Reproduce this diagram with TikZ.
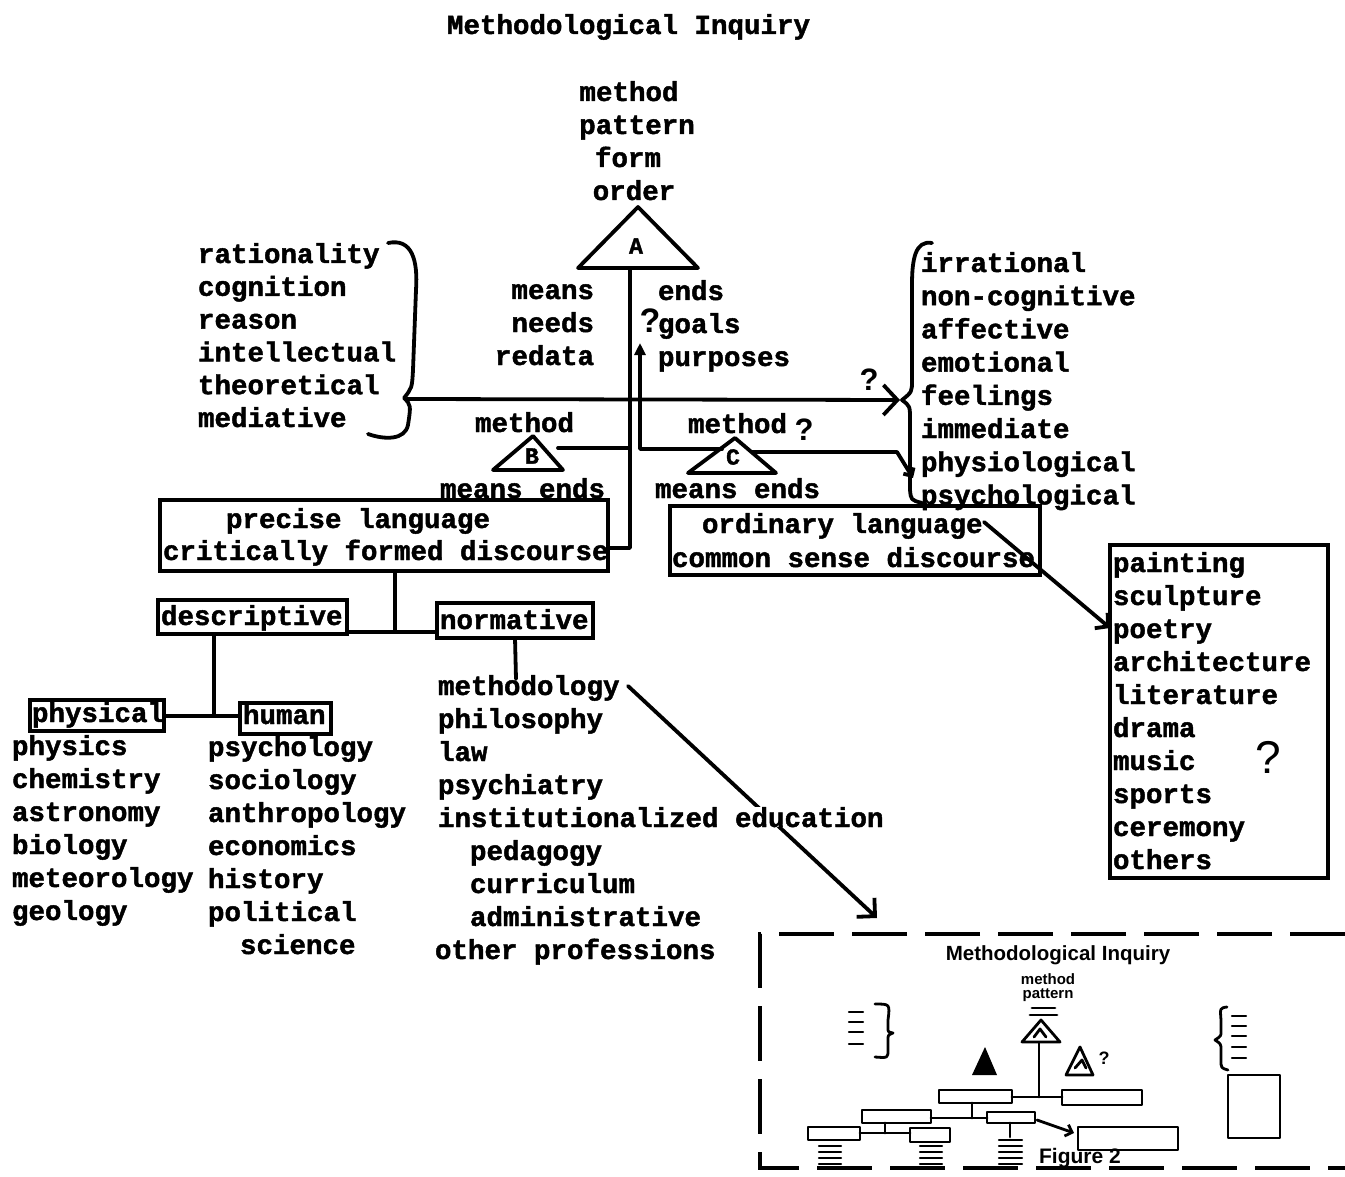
\documentclass[tikz,border=0pt]{standalone}
\usepackage{fontspec}
\newfontfamily\tw{Liberation Mono}[BoldFeatures={FakeBold=1.6}]
\newfontfamily\hw{Liberation Sans}
\usetikzlibrary{arrows.meta,calc}
\tikzset{
  tt/.style={font=\tw\bfseries\fontsize{27.5}{33}\selectfont, inner sep=0pt, outer sep=0pt},
  lab/.style={font=\tw\bfseries\fontsize{23}{23}\selectfont, inner sep=0pt},
  ln/.style={line width=3.8pt, line cap=round, line join=round},
  bx/.style={draw, line width=3.8pt, inner sep=0pt, outer sep=0pt},
  mln/.style={line width=2.8pt, line cap=round, line join=round},
  qm/.style={font=\hw\bfseries\fontsize{34}{34}\selectfont, inner sep=0pt},
  dbox/.style={line width=3.8pt, dash pattern=on 55pt off 18pt},
  hand/.style={font=\hw\bfseries\fontsize{20.5}{20.5}\selectfont, inner sep=0pt},
}
\begin{document}
\begin{tikzpicture}[x=1pt,y=-1pt]
\useasboundingbox (0,0) rectangle (1345,1177);

% ---------- title and top words
\node[tt,anchor=base west] (title) at (447,34) {Methodological Inquiry};
\node[tt,anchor=base] (top1) at (629,101) {method};
\node[tt,anchor=base] (top2) at (637,134) {pattern};
\node[tt,anchor=base] (top3) at (628,167) {form};
\node[tt,anchor=base] (top4) at (634,200) {order};

% ---------- triangle A
\coordinate (Aapex) at (638,207);
\coordinate (Aleft) at (578,268);
\coordinate (Aright) at (698,268);
\draw[ln] (Aapex) -- (Aleft) -- (Aright) -- cycle;
\node[lab] (Alab) at (636,246) {A};
\coordinate (Abase) at (630,268);

% ---------- means / ends
\foreach \t [count=\i] in {means,needs,redata}
  \node[tt,anchor=base east] (me\i) at (594,{299+33*(\i-1)}) {\t};
\foreach \t [count=\i] in {ends,goals,purposes}
  \node[tt,anchor=base west] (en\i) at (658,{300+33*(\i-1)}) {\t};

% ---------- left column
\foreach \t [count=\i] in {rationality,cognition,reason,intellectual,theoretical,mediative}
  \node[tt,anchor=base west] (lc\i) at (198,{263+32.8*(\i-1)}) {\t};

% ---------- right column
\foreach \t [count=\i] in {irrational,non-cognitive,affective,emotional,feelings,immediate,physiological,psychological}
  \node[tt,anchor=base west] (rc\i) at (921,{272+33.2*(\i-1)}) {\t};

% ---------- braces
\draw[ln] (388,243) .. controls (412,238) and (418,260) .. (416,290) -- (413,370)
  .. controls (412,388) .. (404,398) .. controls (411,405) .. (408,425)
  .. controls (405,440) and (385,440) .. (368,434);
\draw[ln] (932,243) .. controls (915,240) and (912,260) .. (912,285) -- (912,380)
  .. controls (912,392) .. (902,400) .. controls (910,406) .. (910,420) -- (910,490)
  .. controls (911,500) .. (922,503);

% ---------- method B and C
\node[tt,anchor=base west] (mB) at (475,432) {method};
\node[tt,anchor=base west] (mC) at (688,433) {method};
\coordinate (Bapex) at (533,436);
\coordinate (Bleft) at (493,470);
\coordinate (Bright) at (563,470);
\draw[ln] (Bapex) -- (Bleft) -- (Bright) -- cycle;
\node[lab] (Blab) at (532,456) {B};
\coordinate (Capex) at (735,438);
\coordinate (Cleft) at (688,473);
\coordinate (Cright) at (776,473);
\draw[ln] (Capex) -- (Cleft) -- (Cright) -- cycle;
\node[lab] (Clab) at (733,457) {C};
\node[tt,anchor=base west] (meB) at (440,498) {means ends};
\node[tt,anchor=base west] (meC) at (655,498) {means ends};

% ---------- language boxes
\node[bx,minimum width=448,minimum height=71] (PL) at (384,535.5) {};
\node[tt,anchor=base west] (PL1) at (226,528) {precise language};
\node[tt,anchor=base west] (PL2) at (163,560) {critically formed discourse};
\node[bx,minimum width=370,minimum height=69] (OL) at (855,540.5) {};
\node[tt,anchor=base west] (OL1) at (702,533) {ordinary language};
\node[tt,anchor=base west] (OL2) at (672,567) {common sense discourse};

% ---------- connectors around the centre
\coordinate (Acorner) at (630,548);
\draw[ln] (Abase) -- (Acorner) -- (Acorner -| PL.east);
\coordinate (Bside) at (558,448);
\draw[ln] (Bside) -- (Bside -| Abase);
\coordinate (Cside) at (722,449);
\coordinate (Ccorner) at (640,449);
\coordinate (Aup) at (640,343);
\draw[ln,-{Triangle[length=12pt,width=11pt]}] (Cside) -- (Ccorner) -- (Aup);
\coordinate (Cout) at (752,452);
\coordinate (Cbend) at (897,452);
\coordinate (Cend) at (913,478);
\draw[ln,-{Straight Barb[length=6pt,width=12pt]}] (Cout) -- (Cbend) -- (Cend);
\coordinate (Lb) at (407,399);
\coordinate (Rb) at (900,400);
\draw[ln,-{Straight Barb[length=14pt,width=30pt]}] (Lb) -- (Rb);

% question marks
\node[qm] (q1) at (650,321) {?};
\node[qm,font=\hw\bfseries\fontsize{31}{31}\selectfont] (q2) at (869,380) {?};
\node[qm,font=\hw\bfseries\fontsize{31}{31}\selectfont] (q3) at (804,430) {?};

% ---------- descriptive / normative
\node[bx,minimum width=189,minimum height=34] (DES) at (252.5,617) {};
\node[tt,anchor=base west] (DESt) at (161,625) {descriptive};
\node[bx,minimum width=156,minimum height=35] (NOR) at (515,620.5) {};
\node[tt,anchor=base west] (NORt) at (440,629) {normative};
\coordinate (J1) at (395,632);
\draw[ln] (J1 |- PL.south) -- (J1);
\draw[ln] (DES.east |- J1) -- (NOR.west |- J1);
\coordinate (Nend) at (516,679);
\draw[ln] (NOR.south) -- (Nend);

\node[bx,minimum width=134,minimum height=31] (PHY) at (97,715.5) {};
\node[tt,anchor=base west] (PHYt) at (32,722) {physical};
\node[bx,minimum width=91,minimum height=31] (HUM) at (285.5,718.5) {};
\node[tt,anchor=base west] (HUMt) at (243,724) {human};
\coordinate (J2) at (214,716);
\draw[ln] (J2 |- DES.south) -- (J2);
\draw[ln] (PHY.east |- J2) -- (HUM.west |- J2);

% ---------- lists
\foreach \t [count=\i] in {physics,chemistry,astronomy,biology,meteorology,geology}
  \node[tt,anchor=base west] (ph\i) at (12,{755+33*(\i-1)}) {\t};
\foreach \t [count=\i] in {psychology,sociology,anthropology,economics,history,political}
  \node[tt,anchor=base west] (hu\i) at (208,{756+33*(\i-1)}) {\t};
\node[tt,anchor=base west] (hu7) at (240,954) {science};

% arrow methodology -> figure
\coordinate (MA) at (628,686);
\coordinate (MB) at (877,918);
\draw[ln,-{Straight Barb[length=13pt,width=26pt]}] (MA) -- (MB);

\node[tt,anchor=base west] (no1) at (438,695) {methodology};
\node[tt,anchor=base west] (no2) at (438,728) {philosophy};
\node[tt,anchor=base west] (no3) at (438,761) {law};
\node[tt,anchor=base west] (no4) at (438,794) {psychiatry};
\node[tt,anchor=base west,fill=white] (no5) at (438,827) {institutionalized education};
\node[tt,anchor=base west] (no6) at (470,860) {pedagogy};
\node[tt,anchor=base west] (no7) at (470,893) {curriculum};
\node[tt,anchor=base west] (no8) at (470,926) {administrative};
\node[tt,anchor=base west] (no9) at (435,959) {other professions};

% ---------- arts box
\node[bx,minimum width=218,minimum height=333] (ART) at (1219,711.5) {};
\foreach \t [count=\i] in {painting,sculpture,poetry,architecture,literature,drama,music,sports,ceremony,others}
  \node[tt,anchor=base west] (ar\i) at (1113,{572+33*(\i-1)}) {\t};
\node[qm,font=\hw\fontsize{46}{46}\selectfont] (q4) at (1268,757) {?};
\coordinate (OLa) at (984,522);
\coordinate (POa) at (1110,628);
\draw[ln,-{Straight Barb[length=9pt,width=20pt]}] (OLa) -- (POa);

% ---------- dashed frame with the small figure
\draw[dbox] (1345,934) -- (760,934) -- (760,1168) -- (1345,1168);

\node[hand] (mt) at (1058,955) {Methodological Inquiry};
\node[hand,font=\hw\bfseries\fontsize{15}{15}\selectfont] (mm) at (1048,979) {method};
\node[hand,font=\hw\bfseries\fontsize{15}{15}\selectfont] (mp) at (1048,995) {pattern};
\node[hand,font=\hw\bfseries\fontsize{21}{21}\selectfont] (mf) at (1080,1158) {Figure 2};
\draw[mln] (1032,1008) -- (1055,1008) (1030,1015) -- (1057,1015);
\draw[mln] (1022,1042) -- (1041,1020) -- (1060,1042) -- cycle;
\draw[mln] (1034,1037) -- (1040,1029) -- (1046,1037);
\fill (972,1075) -- (985,1047) -- (997,1075) -- cycle;
\draw[mln] (1066,1075) -- (1080,1047) -- (1093,1075) -- cycle;
\draw[mln] (1075,1068) -- (1082,1060) -- (1086,1068);
\node[hand,font=\hw\bfseries\fontsize{18}{18}\selectfont] (mq) at (1104,1058) {?};
\draw[mln] (1039,1043) -- (1039,1097);
\draw[mln] (939,1090) rectangle (1012,1103);
\draw[mln] (1062,1090) rectangle (1142,1105);
\draw[mln] (1012,1097) -- (1062,1097);
\draw[mln] (972,1103) -- (972,1118) (931,1118) -- (987,1118);
\draw[mln] (862,1110) rectangle (931,1123);
\draw[mln] (987,1112) rectangle (1035,1123);
\draw[mln,-{Straight Barb[length=6pt,width=12pt]}] (1037,1120) -- (1074,1133);
\draw[mln] (1078,1127) rectangle (1178,1150);
\draw[mln] (885,1123) -- (885,1133) (860,1133) -- (910,1133);
\draw[mln] (808,1127) rectangle (860,1140);
\draw[mln] (910,1128) rectangle (950,1142);
\draw[mln] (1010,1123) -- (1010,1137);
\foreach \yy in {1146,1152,1158,1164} {
  \draw[mln,line width=2.2pt] (819,\yy) -- (841,\yy);
  \draw[mln,line width=2.2pt] (920,\yy) -- (942,\yy);
  \draw[mln,line width=2.2pt] (999,\yy) -- (1022,\yy);
}
\draw[mln,line width=2.2pt] (999,1140) -- (1022,1140);
\foreach \yy in {1012,1022,1032,1044}
  \draw[mln,line width=2.4pt] (849,\yy) -- (863,\yy);
\draw[mln] (875,1004) .. controls (890,1004) .. (888,1020) -- (888,1028)
  .. controls (888,1032) .. (893,1033) .. controls (888,1035) .. (888,1040) -- (888,1050)
  .. controls (888,1058) .. (875,1057);
\foreach \yy in {1016,1026,1036,1047,1058}
  \draw[mln,line width=2.4pt] (1232,\yy) -- (1246,\yy);
\draw[mln] (1227,1007) .. controls (1220,1008) .. (1221,1020) -- (1221,1032)
  .. controls (1221,1036) .. (1215,1040) .. controls (1221,1044) .. (1221,1050) -- (1221,1060)
  .. controls (1221,1068) .. (1228,1070);
\draw[mln] (1228,1075) rectangle (1280,1138);

\end{tikzpicture}
\end{document}
